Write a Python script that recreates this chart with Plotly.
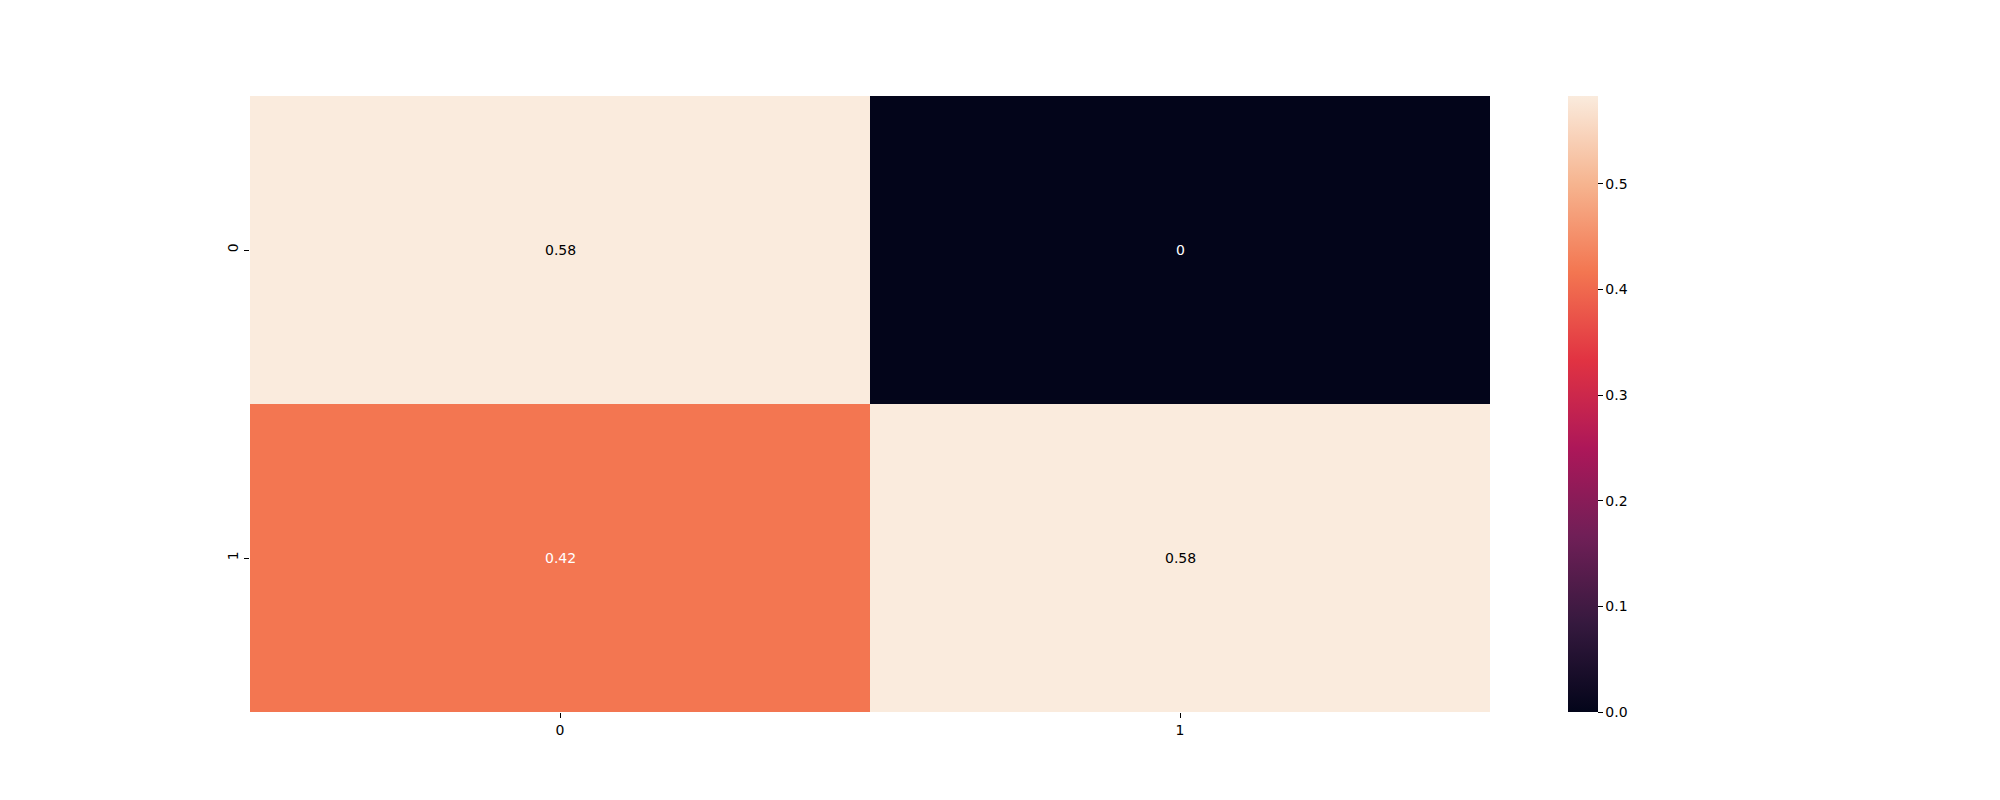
import plotly.graph_objects as go

x_labels = ["0", "1"]
y_labels = ["0", "1"]
values = [[0.5833, 0.0],
          [0.4167, 0.5833]]
cell_text = [["0.58", "0"],
             ["0.42", "0.58"]]
text_colors = [["black", "white"],
               ["white", "black"]]
cbar_ticks = [0.0, 0.1, 0.2, 0.3, 0.4, 0.5]

rocket = [
    [0.0, "#03051a"],
    [1/7, "#35193e"],
    [2/7, "#701f57"],
    [3/7, "#ad1759"],
    [4/7, "#e13342"],
    [5/7, "#f37651"],
    [6/7, "#f6b48f"],
    [1.0, "#faebdd"],
]

vmax = max(max(r) for r in values)
vmin = min(min(r) for r in values)

fig = go.Figure(go.Heatmap(
    z=values, x=x_labels, y=y_labels,
    colorscale=rocket, zmin=vmin, zmax=vmax,
    xgap=0, ygap=0,
    colorbar=dict(
        x=(1568 - 250) / 1240, xanchor="left", xref="paper",
        y=0.5, yanchor="middle", len=1.0, lenmode="fraction",
        thickness=30, thicknessmode="pixels",
        xpad=0, ypad=0,
        outlinewidth=0,
        tickvals=cbar_ticks, ticktext=[f"{t:.1f}" for t in cbar_ticks],
        ticks="outside", ticklen=5, tickwidth=1, tickcolor="black",
        tickfont=dict(family="DejaVu Sans", size=14, color="black"),
    ),
    hoverinfo="skip",
))

annotations = []
for i, yl in enumerate(y_labels):
    for j, xl in enumerate(x_labels):
        annotations.append(dict(
            x=xl, y=yl, text=cell_text[i][j], showarrow=False,
            font=dict(family="DejaVu Sans", size=14, color=text_colors[i][j]),
        ))

fig.update_layout(
    width=2000, height=800,
    margin=dict(l=242, r=518, t=88, b=96),
    paper_bgcolor="white", plot_bgcolor="white",
    annotations=annotations,
    xaxis=dict(
        type="category", showgrid=False, zeroline=False, showline=False,
        ticks="outside", ticklen=5, tickwidth=1, tickcolor="black",
        tickfont=dict(family="DejaVu Sans", size=14, color="black"),
    ),
    yaxis=dict(
        type="category", autorange="reversed", showgrid=False, zeroline=False, showline=False,
        ticks="outside", ticklen=5, tickwidth=1, tickcolor="black", tickangle=-90,
        tickfont=dict(family="DejaVu Sans", size=14, color="black"),
    ),
)

fig.write_html("out.html")
